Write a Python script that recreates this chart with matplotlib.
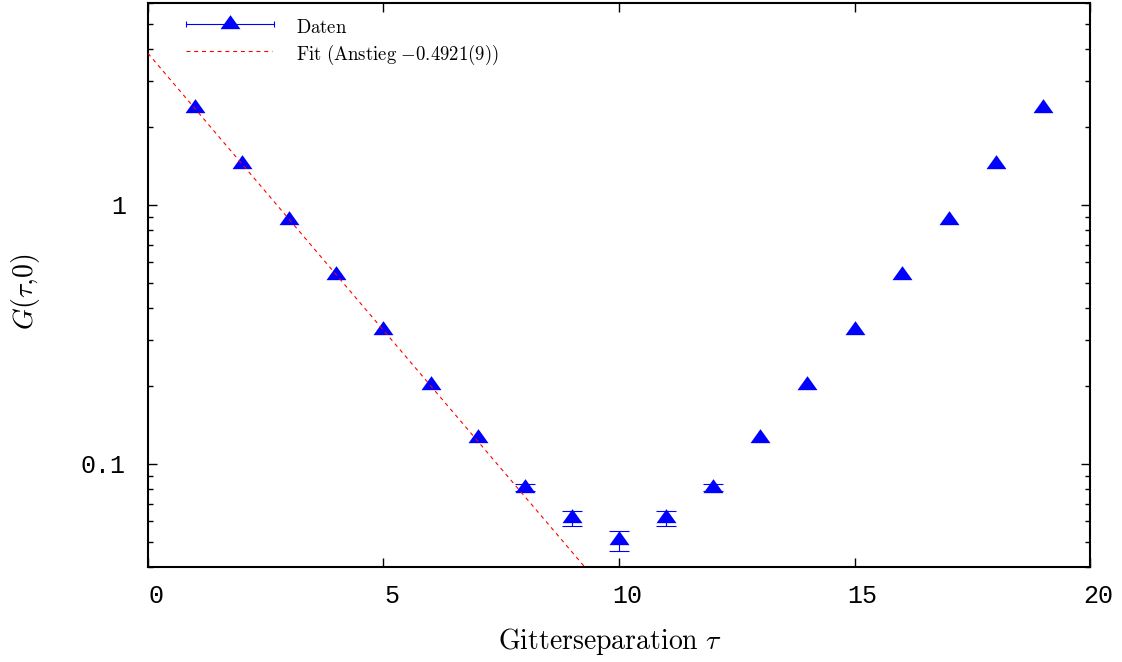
import numpy as np
import matplotlib.pyplot as plt
from matplotlib.ticker import FixedLocator, LogLocator, NullFormatter, FuncFormatter
from matplotlib.transforms import ScaledTranslation

plt.rcParams['mathtext.fontset'] = 'cm'
plt.rcParams['font.family'] = 'Liberation Mono'

# correlator data
tau = [1, 2, 3, 4, 5, 6, 7, 8, 9, 10, 11, 12, 13, 14, 15, 16, 17, 18, 19]
G = [2.366, 1.439, 0.875, 0.537, 0.328, 0.201, 0.126, 0.0808, 0.0618, 0.0507,
     0.0618, 0.0808, 0.126, 0.201, 0.328, 0.537, 0.875, 1.439, 2.366]
# errors hidden under the markers are left at 0
G_err = [0, 0, 0, 0, 0, 0, 0, 0.0025, 0.004, 0.0044,
         0.004, 0.0025, 0, 0, 0, 0, 0, 0, 0]

# exponential fit  G = A * exp(m * tau)
fit_amp = 3.835
fit_slope = -0.4921
fit_range = [0, 20]

fig = plt.figure(figsize=(11.22, 6.62), dpi=100)
ax = fig.add_axes([0.1319, 0.1435, 0.8396, 0.852])

# triangle centred on its centroid (like gnuplot's point type)
tri = [(0, 9.33), (-10, -4.67), (10, -4.67)]

t_arr = np.array(tau, dtype=float)
g_arr = np.array(G)
e_arr = np.array(G_err)
has_err = e_arr > 0
ax.errorbar(t_arr[has_err], g_arr[has_err], yerr=e_arr[has_err], fmt='none',
            ecolor='blue', elinewidth=0.8, capsize=7, capthick=0.8, zorder=2)
ax.plot(tau, G, ls='none', marker=tri, ms=14.4, color='blue', mew=0, zorder=3)

t_fit = np.array(fit_range, dtype=float)
ax.plot(t_fit, fit_amp * np.exp(fit_slope * t_fit), color='red', lw=0.8,
        ls=(0, (3.5, 3.5)), zorder=4)

ax.set_yscale('log')
ax.set_xlim(0, 20)
ax.set_ylim(0.04, 6)
ax.set_xticks([0, 5, 10, 15, 20])
ax.yaxis.set_major_locator(FixedLocator([0.1, 1]))
ax.yaxis.set_major_formatter(FuncFormatter(lambda v, p: f'{v:g}'))
ax.yaxis.set_minor_locator(LogLocator(subs=range(2, 10)))
ax.yaxis.set_minor_formatter(NullFormatter())

ax.tick_params(which='both', direction='in', top=True, right=True, width=1)
ax.tick_params(which='major', length=6.5, labelsize=18)
ax.tick_params(which='minor', length=3.3)
ax.tick_params(axis='x', which='minor', bottom=False, top=False)
ax.tick_params(axis='x', pad=12)
ax.tick_params(axis='y', pad=16)
for sp in ax.spines.values():
    sp.set_linewidth(1.5)

# shift x tick labels slightly to the right
shift = ScaledTranslation(8 / 100, 0, fig.dpi_scale_trans)
for lab in ax.get_xticklabels():
    lab.set_transform(lab.get_transform() + shift)

ax.set_xlabel(r'$\mathrm{Gitterseparation}\ \tau$', fontsize=20)
ax.xaxis.set_label_coords(0.4904, -0.105)
ax.set_ylabel(r'$G(\tau{,}0)$', fontsize=20)
ax.yaxis.set_label_coords(-0.1125, 0.488)

# key, drawn by hand in axes coordinates
kx0, kx1, kxm = 0.0403, 0.1338, 0.0870
ax.plot([kx0, kx1], [0.9627, 0.9627], color='blue', lw=0.8, transform=ax.transAxes,
        clip_on=False)
ax.plot([kx0, kx1], [0.9627, 0.9627], ls='none', marker='|', ms=5, mew=0.8,
        color='blue', transform=ax.transAxes, clip_on=False)
ax.plot([kxm], [0.9627], marker=tri, ms=14.4, mew=0, color='blue',
        transform=ax.transAxes, clip_on=False)
ax.text(0.1571, 0.9556, r'$\mathrm{Daten}$', fontsize=13.5, va='center',
        transform=ax.transAxes)
ax.plot([kx0, 0.1315], [0.9147, 0.9147], color='red', lw=0.8, ls=(0, (3.5, 3.5)),
        transform=ax.transAxes, clip_on=False)
ax.text(0.1571, 0.9076, r'$\mathrm{Fit\ (Anstieg\ }{-}0.4921(9))$', fontsize=13.5,
        va='center', transform=ax.transAxes)

fig.savefig('out.png', dpi=100)
